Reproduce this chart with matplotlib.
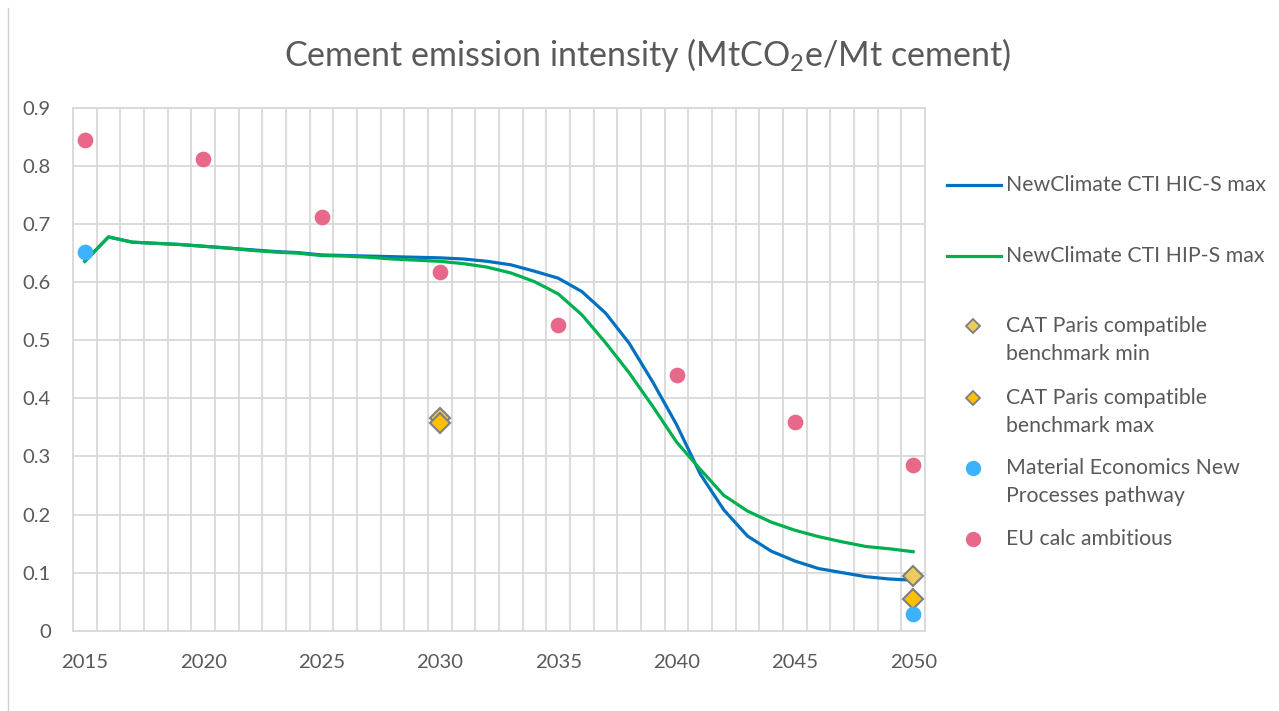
import matplotlib.pyplot as plt
from matplotlib.lines import Line2D
import numpy as np

plt.rcParams['font.family'] = ['Lato', 'DejaVu Sans']
plt.rcParams['mathtext.fontset'] = 'custom'
plt.rcParams['mathtext.rm'] = 'Lato'
plt.rcParams['mathtext.it'] = 'Lato:italic'

# data
years = list(range(2015, 2051))
hic_s = [0.636, 0.678, 0.669, 0.667, 0.665, 0.662, 0.659, 0.656, 0.653, 0.651,
         0.647, 0.646, 0.645, 0.644, 0.643, 0.642, 0.640, 0.636, 0.630, 0.619,
         0.607, 0.584, 0.547, 0.495, 0.428, 0.355, 0.270, 0.208, 0.163, 0.137,
         0.120, 0.107, 0.100, 0.093, 0.089, 0.087]
hip_s = [0.636, 0.678, 0.669, 0.667, 0.665, 0.662, 0.659, 0.655, 0.652, 0.650,
         0.646, 0.645, 0.643, 0.640, 0.638, 0.636, 0.632, 0.626, 0.616, 0.601,
         0.580, 0.544, 0.496, 0.444, 0.386, 0.325, 0.278, 0.233, 0.206, 0.187,
         0.173, 0.162, 0.153, 0.145, 0.141, 0.136]

cat_years = [2030, 2050]
cat_min = [0.366, 0.094]
cat_max = [0.357, 0.055]

me_years = [2015, 2050]
me_vals = [0.652, 0.028]

eu_years = [2015, 2020, 2025, 2030, 2035, 2040, 2045, 2050]
eu_vals = [0.845, 0.812, 0.712, 0.617, 0.527, 0.440, 0.360, 0.285]

labels = ["NewClimate CTI HIC-S max", "NewClimate CTI HIP-S max",
          "CAT Paris compatible\nbenchmark min", "CAT Paris compatible\nbenchmark max",
          "Material Economics New\nProcesses pathway", "EU calc ambitious"]

BLUE = '#0070C0'
GREEN = '#00B050'
PINK = '#E8688A'
LBLUE = '#3DB2FF'
YEL1 = '#EBCB5C'
YEL2 = '#FFC000'
EDGE = '#7F7F7F'
GRID = '#D9D9D9'
TXT = '#595959'

W, H = 1279, 711
fig = plt.figure(figsize=(W / 100, H / 100), dpi=100)
ax = fig.add_axes([73 / W, 1 - 630.7 / H, (925 - 73) / W, (630.7 - 108) / H])

ax.plot(years, hic_s, color=BLUE, lw=2.3, zorder=3)
ax.plot(years, hip_s, color=GREEN, lw=2.3, zorder=3)
ax.plot(cat_years, cat_min, 'D', ms=10, mfc=YEL1, mec=EDGE, mew=1.5, zorder=4)
ax.plot(cat_years, cat_max, 'D', ms=10, mfc=YEL2, mec=EDGE, mew=1.5, zorder=4)
ax.plot(me_years, me_vals, 'o', ms=10.3, color=LBLUE, zorder=4)
ax.plot(eu_years, eu_vals, 'o', ms=10.3, color=PINK, zorder=4)

ax.set_xlim(2014.5, 2050.5)
ax.set_ylim(0, 0.9)
ax.set_xticks(range(2015, 2051, 5))
ax.set_xticks(np.arange(2014.5, 2051, 1), minor=True)
ax.set_yticks(np.arange(0, 0.91, 0.1))
ax.set_yticklabels(['0'] + ['%.1f' % v for v in np.arange(0.1, 0.91, 0.1)])
ax.grid(which='minor', axis='x', color=GRID, lw=1.3)
ax.grid(which='major', axis='y', color=GRID, lw=1.3)
ax.tick_params(which='both', length=0, labelsize=14.6, labelcolor=TXT)
ax.tick_params(axis='x', pad=17)
ax.tick_params(axis='y', pad=16)
for s in ax.spines.values():
    s.set_color(GRID)
    s.set_linewidth(1.3)

fig.text(647 / W, 1 - 55 / H, 'Cement emission intensity (MtCO$_2$e/Mt cement)',
         ha='center', va='center', fontsize=24.5, color=TXT)

# legend drawn by hand in pixel coords
lax = fig.add_axes([0, 0, 1, 1])
lax.set_xlim(0, W)
lax.set_ylim(H, 0)
lax.axis('off')
lax.add_line(Line2D([8, 8], [8, H], color='#D0D0D0', lw=1))

ys = [185, 256, 326, 398, 468, 539]
lax.plot([947, 1001], [ys[0], ys[0]], color=BLUE, lw=2.3)
lax.plot([947, 1001], [ys[1], ys[1]], color=GREEN, lw=2.3)
lax.plot(973, ys[2], 'D', ms=7.5, mfc=YEL1, mec=EDGE, mew=1.3)
lax.plot(973, ys[3], 'D', ms=7.5, mfc=YEL2, mec=EDGE, mew=1.3)
lax.plot(973, ys[4], 'o', ms=10, color=LBLUE)
lax.plot(973, ys[5], 'o', ms=10, color=PINK)
for y, lab in zip(ys, labels):
    for k, part in enumerate(lab.split('\n')):
        lax.text(1006, y + 28.5 * k, part, ha='left', va='center', fontsize=15.3,
                 color=TXT)

fig.savefig('out.png', dpi=100, facecolor='white')
